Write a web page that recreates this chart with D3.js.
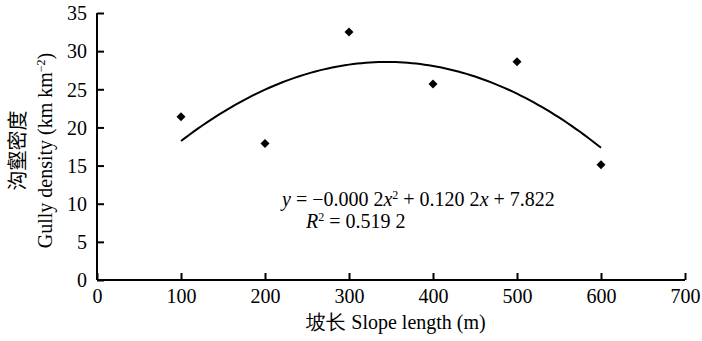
<!DOCTYPE html>
<html>
<head>
<meta charset="utf-8">
<script src="https://cdn.jsdelivr.net/npm/d3@7"></script>
<style>
  body { margin: 0; background: #fff; }
  svg { display: block; }
  svg text { font-family: "Liberation Serif", "Tinos", "Times New Roman", "DejaVu Serif", serif; fill: #000; }
</style>
</head>
<body>
<svg id="chart" width="702" height="341"></svg>
<script>
// ---- data ----
const slopeLength = [100, 200, 300, 400, 500, 600];
const gullyDensity = [21.4, 17.9, 32.5, 25.7, 28.6, 15.1];
const xTicks = [0, 100, 200, 300, 400, 500, 600, 700];
const yTicks = [0, 5, 10, 15, 20, 25, 30, 35];
const xTitle = "坡长 Slope length (m)";
const yTitleCn = "沟壑密度";
const yTitleEn = "Gully density (km km";
const eqLine1 = ["y", " = −0.000 2", "x", "2", " + 0.120 2", "x", " + 7.822"];
const eqLine2 = " = 0.519 2";

const SERIF = "'Liberation Serif', 'Tinos', 'Times New Roman', 'DejaVu Serif', serif";
const svg = d3.select("#chart");
const margin = { left: 97, right: 17, top: 13, bottom: 61 };
const W = 702, H = 341;

const x = d3.scaleLinear().domain([0, 700]).range([margin.left, W - margin.right]);
const y = d3.scaleLinear().domain([0, 35]).range([H - margin.bottom, margin.top]);

// axes
const xAxis = d3.axisBottom(x).tickValues(xTicks).tickSize(-7).tickPadding(9).tickFormat(d3.format("d"));
const yAxis = d3.axisLeft(y).tickValues(yTicks).tickSize(-7).tickPadding(10).tickFormat(d3.format("d"));

const gx = svg.append("g").attr("transform", `translate(0,${y(0)})`).call(xAxis);
const gy = svg.append("g").attr("transform", `translate(${x(0)},0)`).call(yAxis);
[gx, gy].forEach(g => {
  g.attr("font-family", null).attr("font-size", null);
  g.select(".domain").attr("stroke", "#000").attr("stroke-width", 2);
  g.selectAll(".tick line").attr("stroke", "#000").attr("stroke-width", 2);
  g.selectAll(".tick text").style("font-size", "20px").style("font-family", SERIF).attr("fill", "#000");
});
gx.select(".domain").attr("d", `M${x(0)},0H${x(700)}`);
gy.select(".domain").attr("d", `M0,${y(0)}V${y(35)}`);
gx.selectAll(".tick text").attr("dy", "0.71em");
gy.selectAll(".tick text").attr("dy", "0.34em");

// least-squares quadratic trendline from the data
const n = slopeLength.length;
const mx = d3.mean(slopeLength);
const ts = slopeLength.map(v => (v - mx) / 100);
const S2 = d3.sum(ts, t => t * t), S4 = d3.sum(ts, t => t ** 4);
const Sy = d3.sum(gullyDensity), Sty = d3.sum(ts.map((t, i) => t * gullyDensity[i]));
const St2y = d3.sum(ts.map((t, i) => t * t * gullyDensity[i]));
const bCoef = Sty / S2;
const cCoef = (St2y - S2 * Sy / n) / (S4 - S2 * S2 / n);
const aCoef = (Sy - cCoef * S2) / n;
const fit = v => { const t = (v - mx) / 100; return aCoef + bCoef * t + cCoef * t * t; };
const fitX = d3.range(100, 600.01, 5);
const line = d3.line().x(d => x(d)).y(d => y(fit(d)));
svg.append("path").datum(fitX).attr("d", line)
  .attr("fill", "none").attr("stroke", "#000").attr("stroke-width", 2);

// points (square diamonds)
svg.selectAll(".pt").data(slopeLength).enter().append("path")
  .attr("class", "pt")
  .attr("d", d3.symbol().type(d3.symbolSquare).size(40))
  .attr("transform", (d, i) => `translate(${x(d)},${y(gullyDensity[i])}) rotate(45)`)
  .attr("fill", "#000");

// equation
const eq = svg.append("text").attr("x", 282).attr("y", 206).style("font-size", "20px").style("white-space", "pre");
eq.append("tspan").attr("font-style", "italic").text(eqLine1[0]);
eq.append("tspan").text(eqLine1[1]);
eq.append("tspan").attr("font-style", "italic").text(eqLine1[2]);
eq.append("tspan").attr("dy", -7).style("font-size", "12px").text(eqLine1[3]);
eq.append("tspan").attr("dy", 7).text(eqLine1[4]);
eq.append("tspan").attr("font-style", "italic").text(eqLine1[5]);
eq.append("tspan").text(eqLine1[6]);

const r2 = svg.append("text").attr("x", 306).attr("y", 228).style("font-size", "20px").style("white-space", "pre");
r2.append("tspan").attr("font-style", "italic").text("R");
r2.append("tspan").attr("dy", -7).style("font-size", "12px").text("2");
r2.append("tspan").attr("dy", 7).text(eqLine2);

// axis titles
svg.append("text").attr("x", 396).attr("y", 329).attr("text-anchor", "middle")
  .style("font-size", "20px").text(xTitle);

const cy = (y(0) + y(35)) / 2 + 4;
svg.append("text").attr("transform", `translate(25,${cy}) rotate(-90)`).attr("text-anchor", "middle")
  .style("font-size", "20px").style("font-family", "'Noto Sans CJK SC', serif").text(yTitleCn);

const yt = svg.append("text").attr("transform", `translate(52,${cy}) rotate(-90)`).attr("text-anchor", "middle")
  .style("font-size", "20px");
yt.append("tspan").text(yTitleEn);
yt.append("tspan").attr("dy", -7).style("font-size", "12px").text("−2");
yt.append("tspan").attr("dy", 7).text(")");
</script>
</body>
</html>
